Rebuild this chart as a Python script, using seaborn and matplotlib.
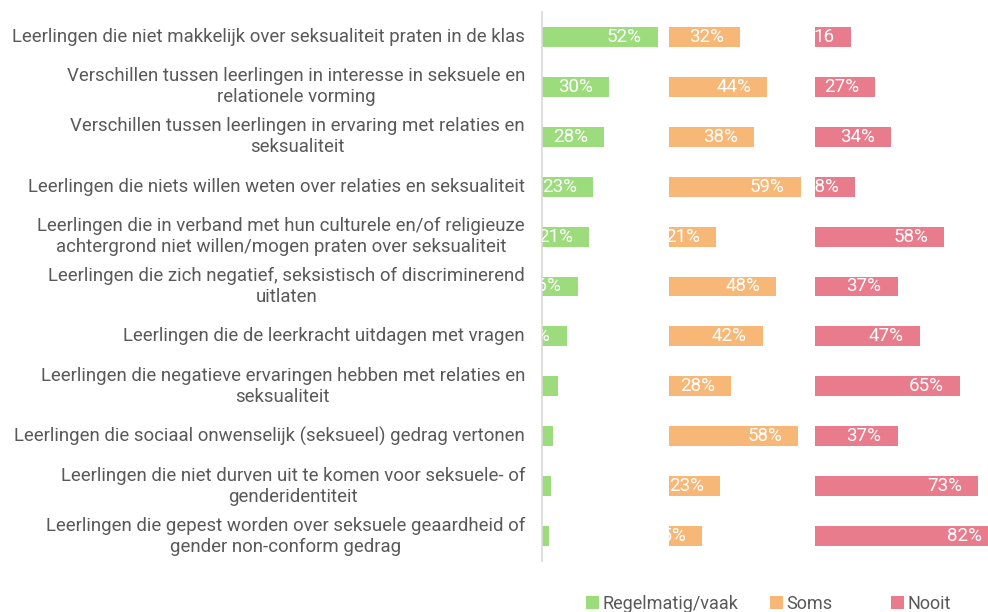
import matplotlib
matplotlib.use("Agg")
import matplotlib.pyplot as plt
import matplotlib.transforms as mtransforms
from matplotlib.patches import Patch
import seaborn as sns
import pandas as pd

categories = [
    "Leerlingen die niet makkelijk over seksualiteit praten in de klas",
    "Verschillen tussen leerlingen in interesse in seksuele en\nrelationele vorming",
    "Verschillen tussen leerlingen in ervaring met relaties en\nseksualiteit",
    "Leerlingen die niets willen weten over relaties en seksualiteit",
    "Leerlingen die in verband met hun culturele en/of religieuze\nachtergrond niet willen/mogen praten over seksualiteit",
    "Leerlingen die zich negatief, seksistisch of discriminerend\nuitlaten",
    "Leerlingen die de leerkracht uitdagen met vragen",
    "Leerlingen die negatieve ervaringen hebben met relaties en\nseksualiteit",
    "Leerlingen die sociaal onwenselijk (seksueel) gedrag vertonen",
    "Leerlingen die niet durven uit te komen voor seksuele- of\ngenderidentiteit",
    "Leerlingen die gepest worden over seksuele geaardheid of\ngender non-conform gedrag",
]
regelmatig = [52, 30, 28, 23, 21, 16, 11, 7, 5, 4, 3]
soms = [32, 44, 38, 59, 21, 48, 42, 28, 58, 23, 15]
nooit = [16, 27, 34, 18, 58, 37, 47, 65, 37, 73, 82]
regelmatig_labels = [f"{v}%" for v in regelmatig]
soms_labels = [f"{v}%" for v in soms]
nooit_labels = ["16"] + [f"{v}%" for v in nooit[1:]]
series_names = ["Regelmatig/vaak", "Soms", "Nooit"]
colors = ["#9CDC7D", "#F7B877", "#E87C8C"]

sns.set_theme(style="white")
plt.rcParams["font.family"] = ["Roboto", "DejaVu Sans"]

W, H = 988, 612
fig = plt.figure(figsize=(W / 100, H / 100), dpi=100)

px_per_pct = 2.23
top_px, bot_px = 12, 561
panels = [(542, 127), (669, 146), (815, 192)]
series = [regelmatig, soms, nooit]
labels = [regelmatig_labels, soms_labels, nooit_labels]

axes = []
for (left, width), vals, labs, col in zip(panels, series, labels, colors):
    ax = fig.add_axes([left / W, 1 - bot_px / H, width / W, (bot_px - top_px) / H])
    df = pd.DataFrame({"cat": list(range(len(vals))), "val": vals})
    sns.barplot(data=df, x="val", y="cat", orient="h", color=col, width=0.4,
                saturation=1, ax=ax, linewidth=0)
    ax.set_xlim(0, width / px_per_pct)
    ax.set_ylim(len(vals) - 0.5, -0.5)
    ax.set_xticks([])
    ax.set_yticks([])
    ax.set_xlabel("")
    ax.set_ylabel("")
    for s in ax.spines.values():
        s.set_visible(False)
    off = mtransforms.offset_copy(ax.transData, fig=fig, x=-16, y=0, units="dots")
    for i, (v, lab) in enumerate(zip(vals, labs)):
        ax.text(v, i, lab, transform=off, ha="right", va="center",
                color="white", fontsize=13.5, clip_on=True)
    axes.append(ax)

ax0 = axes[0]
ax0.spines["left"].set_visible(True)
ax0.spines["left"].set_color("#d9d9d9")
ax0.spines["left"].set_linewidth(1.2)

lab_off = mtransforms.offset_copy(ax0.transData, fig=fig, x=-17, y=0, units="dots")
for i, c in enumerate(categories):
    ax0.text(0, i, c, transform=lab_off, ha="right", va="center", ma="center",
             color="#595959", fontsize=13.4, linespacing=1.2, clip_on=False)

legend_x = [586, 770, 891]
for name, col, lx in zip(series_names, colors, legend_x):
    leg = fig.legend([Patch(facecolor=col, edgecolor="none")], [name], loc="center left",
                     bbox_to_anchor=(lx / W, 1 - 604 / H), frameon=False, fontsize=13,
                     handlelength=0.7, handleheight=0.7, handletextpad=0.2,
                     borderpad=0, borderaxespad=0, labelcolor="#595959")

fig.savefig("out.png", dpi=100)
